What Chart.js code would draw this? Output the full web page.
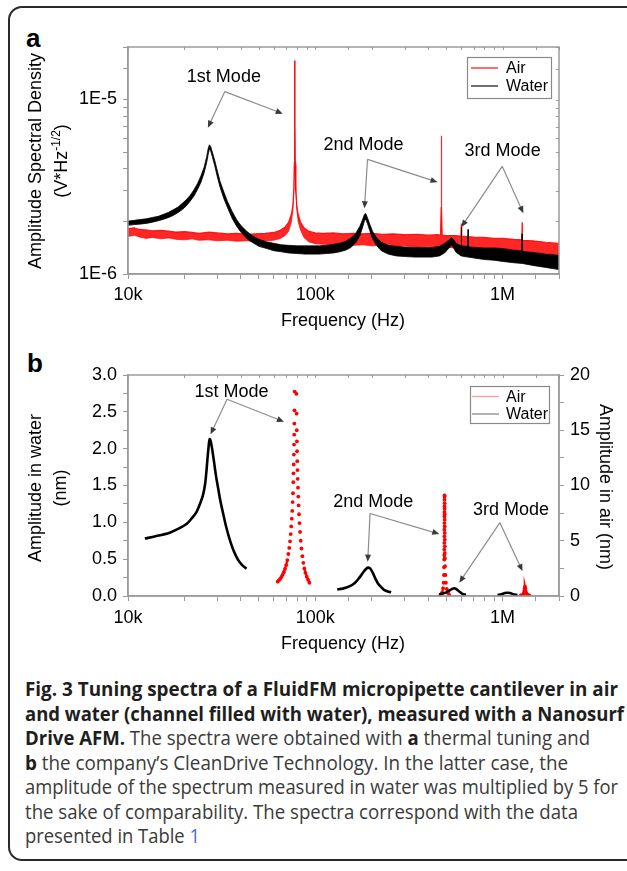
<!DOCTYPE html>
<html><head><meta charset="utf-8">
<script src="https://cdn.jsdelivr.net/npm/chart.js@4.4.1/dist/chart.umd.min.js"></script>
<style>
html,body{margin:0;padding:0;background:#fff;width:627px;height:871px;overflow:hidden;position:relative;font-family:"Liberation Sans",Arial,sans-serif;}
#frame{position:absolute;left:8px;top:6px;width:660px;height:855px;border:2.5px solid #2a2a2a;border-radius:14px;box-sizing:border-box;}
canvas{position:absolute;left:0;}
#ca{top:0}
#cb{top:340px}
.lbl{position:absolute;font-weight:bold;font-size:26px;color:#000;line-height:1}
.t{position:absolute;font-size:18px;color:#000;white-space:nowrap;line-height:1;transform:translate(-50%,-50%)}
.rl{transform:translate(-50%,-50%) rotate(-90deg)}
.rr{transform:translate(-50%,-50%) rotate(90deg)}
.t sup{font-size:12px;vertical-align:7px}
.cap{position:absolute;left:25px;white-space:nowrap;font-family:"Open Sans",sans-serif;font-size:20px;color:#3a3a3a;transform-origin:0 50%;line-height:24px}
.cap b{color:#1e1e1e;font-weight:700}
.cap .lk{color:#3f6fd8}
</style></head>
<body>
<div id="frame"></div>
<div class="lbl" style="left:26px;top:25px">a</div>
<div class="lbl" style="left:27px;top:350px">b</div>
<canvas id="ca" width="627" height="340"></canvas>
<canvas id="cb" width="627" height="330"></canvas>

<div class="t rl" style="left:35px;top:161px">Amplitude Spectral Density</div>
<div class="t rl" style="left:60px;top:161px">(V*Hz<sup>-1/2</sup>)</div>
<div class="t" style="left:343px;top:320px">Frequency (Hz)</div>
<div class="t rl" style="left:35px;top:488px">Amplitude in water</div>
<div class="t rl" style="left:60px;top:488px">(nm)</div>
<div class="t rr" style="left:606px;top:487px">Amplitude in air (nm)</div>
<div class="t" style="left:343px;top:643px">Frequency (Hz)</div>

<div class="cap" data-w="593" style="top:689px"><b>Fig. 3 Tuning spectra of a FluidFM micropipette cantilever in air</b></div>
<div class="cap" data-w="599" style="top:713.5px"><b>and water (channel filled with water), measured with a Nanosurf</b></div>
<div class="cap" data-w="565" style="top:738px"><b>Drive AFM.</b> The spectra were obtained with <b>a</b> thermal tuning and</div>
<div class="cap" data-w="543" style="top:762.5px"><b>b</b> the company’s CleanDrive Technology. In the latter case, the</div>
<div class="cap" data-w="593" style="top:787px">amplitude of the spectrum measured in water was multiplied by 5 for</div>
<div class="cap" data-w="553" style="top:811.5px">the sake of comparability. The spectra correspond with the data</div>
<div class="cap" data-w="175" style="top:836px">presented in Table <span class="lk">1</span></div>

<script>
// ---------------- DATA ----------------
const seriesNames = ['Air', 'Water'];
const modeLabels = ['1st Mode', '2nd Mode', '3rd Mode'];
const xTickVals = [1e4, 1e5, 1e6];
const xTickText = ['10k', '100k', '1M'];
const yTickValsA = [1e-6, 1e-5];
const yTickTextA = ['1E-6', '1E-5'];

// Panel a: thermal noise spectra (V/sqrt(Hz)), lower / upper edge of the noisy trace
const airF_a = [10000,10800,11500,12500,13500,15000,16500,18000,20000,22000,24000,27000,30000,34000,38000,43000,48000,54000,60000,65000,69000,72000,74500,76000,76900,77300,77550,77700,77850,78100,78600,79600,81000,83500,87000,92000,100000,110000,125000,140000,160000,180000,200000,230000,260000,300000,350000,400000,450000,466000,469500,471000,472500,476000,500000,560000,599000,602000,605000,700000,800000,900000,1000000,1150000,1266000,1271000,1276000,1450000,1700000,2000000];
const airLo_a = [1.64e-6,1.67e-6,1.63e-6,1.60e-6,1.62e-6,1.59e-6,1.61e-6,1.58e-6,1.57e-6,1.59e-6,1.56e-6,1.57e-6,1.55e-6,1.56e-6,1.54e-6,1.55e-6,1.53e-6,1.55e-6,1.56e-6,1.60e-6,1.66e-6,1.76e-6,1.98e-6,2.35e-6,3.00e-6,4.20e-6,7.00e-6,1.67e-5,7.00e-6,4.20e-6,3.00e-6,2.35e-6,2.00e-6,1.78e-6,1.62e-6,1.53e-6,1.49e-6,1.48e-6,1.47e-6,1.48e-6,1.46e-6,1.47e-6,1.45e-6,1.46e-6,1.44e-6,1.45e-6,1.43e-6,1.44e-6,1.43e-6,1.43e-6,1.43e-6,1.43e-6,1.43e-6,1.43e-6,1.42e-6,1.41e-6,1.41e-6,1.41e-6,1.41e-6,1.40e-6,1.38e-6,1.37e-6,1.36e-6,1.35e-6,1.34e-6,1.34e-6,1.34e-6,1.32e-6,1.31e-6,1.28e-6];
const airHi_a = [1.82e-6,1.84e-6,1.80e-6,1.79e-6,1.77e-6,1.78e-6,1.76e-6,1.74e-6,1.75e-6,1.73e-6,1.71e-6,1.74e-6,1.72e-6,1.70e-6,1.71e-6,1.69e-6,1.70e-6,1.71e-6,1.73e-6,1.78e-6,1.86e-6,1.98e-6,2.20e-6,2.50e-6,3.15e-6,4.35e-6,7.30e-6,1.67e-5,7.30e-6,4.35e-6,3.15e-6,2.50e-6,2.20e-6,1.98e-6,1.84e-6,1.76e-6,1.72e-6,1.71e-6,1.72e-6,1.70e-6,1.71e-6,1.70e-6,1.71e-6,1.69e-6,1.70e-6,1.68e-6,1.69e-6,1.67e-6,1.68e-6,1.67e-6,2.40e-6,6.20e-6,2.40e-6,1.67e-6,1.66e-6,1.66e-6,1.65e-6,1.95e-6,1.65e-6,1.63e-6,1.62e-6,1.60e-6,1.60e-6,1.58e-6,1.57e-6,1.98e-6,1.56e-6,1.55e-6,1.52e-6,1.50e-6];

const waterF_a = [10000,10800,11500,12500,13500,14500,15500,16500,17500,18500,19500,20500,21500,22500,23500,24500,25500,26300,26800,27200,27600,28200,29000,30000,31000,32500,34000,36000,38000,40000,43000,46000,50000,55000,60000,66000,72000,80000,88000,96000,105000,115000,125000,135000,145000,155000,165000,173000,179000,183000,186000,190000,195000,202000,212000,225000,245000,270000,300000,340000,380000,420000,460000,490000,515000,532000,545000,565000,600000,602000,604000,652000,654000,656000,720000,800000,900000,1000000,1150000,1268000,1271000,1274000,1450000,1700000,2000000];
const waterLo_a = [1.90e-6,1.92e-6,1.93e-6,1.95e-6,1.98e-6,2.02e-6,2.06e-6,2.11e-6,2.17e-6,2.25e-6,2.34e-6,2.46e-6,2.62e-6,2.80e-6,3.05e-6,3.35e-6,3.80e-6,4.35e-6,4.85e-6,5.20e-6,5.10e-6,4.70e-6,4.20e-6,3.60e-6,3.15e-6,2.70e-6,2.40e-6,2.08e-6,1.88e-6,1.74e-6,1.60e-6,1.52e-6,1.44e-6,1.40e-6,1.36e-6,1.34e-6,1.32e-6,1.31e-6,1.30e-6,1.30e-6,1.30e-6,1.31e-6,1.32e-6,1.34e-6,1.37e-6,1.42e-6,1.52e-6,1.66e-6,1.86e-6,2.02e-6,2.06e-6,1.94e-6,1.78e-6,1.60e-6,1.46e-6,1.36e-6,1.30e-6,1.27e-6,1.26e-6,1.25e-6,1.25e-6,1.25e-6,1.27e-6,1.32e-6,1.40e-6,1.46e-6,1.42e-6,1.33e-6,1.27e-6,1.27e-6,1.27e-6,1.25e-6,1.25e-6,1.25e-6,1.23e-6,1.21e-6,1.20e-6,1.18e-6,1.16e-6,1.15e-6,1.15e-6,1.15e-6,1.12e-6,1.09e-6,1.06e-6];
const waterHi_a = [2.01e-6,2.03e-6,2.05e-6,2.07e-6,2.11e-6,2.14e-6,2.20e-6,2.26e-6,2.34e-6,2.42e-6,2.54e-6,2.67e-6,2.83e-6,3.04e-6,3.30e-6,3.65e-6,4.10e-6,4.70e-6,5.25e-6,5.50e-6,5.40e-6,5.00e-6,4.50e-6,3.90e-6,3.40e-6,2.95e-6,2.60e-6,2.28e-6,2.05e-6,1.90e-6,1.76e-6,1.66e-6,1.58e-6,1.53e-6,1.50e-6,1.47e-6,1.46e-6,1.45e-6,1.45e-6,1.45e-6,1.45e-6,1.46e-6,1.48e-6,1.50e-6,1.54e-6,1.61e-6,1.72e-6,1.88e-6,2.06e-6,2.20e-6,2.22e-6,2.10e-6,1.94e-6,1.76e-6,1.62e-6,1.52e-6,1.46e-6,1.44e-6,1.43e-6,1.42e-6,1.42e-6,1.42e-6,1.44e-6,1.50e-6,1.56e-6,1.62e-6,1.58e-6,1.50e-6,1.45e-6,1.85e-6,1.45e-6,1.44e-6,1.80e-6,1.43e-6,1.42e-6,1.41e-6,1.41e-6,1.40e-6,1.37e-6,1.36e-6,1.70e-6,1.35e-6,1.33e-6,1.30e-6,1.28e-6];

// Panel b: CleanDrive spectra (null = gap between sweeps)
const waterF_b = [12300,14000,16700,18500,20600,22000,23200,24300,25200,25800,26200,26600,26900,27100,27300,27500,27800,28200,28800,29500,30300,31200,32200,33500,34900,36700,38700,40700,42900,null,
  131000,140000,152000,163000,172000,180000,187000,192000,197000,203000,209000,216000,225000,234000,244000,254000,null,
  459000,480000,500000,520000,537000,552000,568000,587000,610000,637000,null,
  940000,985000,1030000,1060000,1095000,1140000,1200000];
const waterAmp_b = [0.78,0.81,0.86,0.91,0.98,1.06,1.14,1.26,1.38,1.52,1.68,1.88,2.01,2.09,2.13,2.12,2.07,1.98,1.82,1.63,1.46,1.28,1.12,0.93,0.77,0.61,0.49,0.42,0.37,null,
  0.09,0.10,0.13,0.18,0.25,0.32,0.37,0.385,0.37,0.31,0.24,0.17,0.12,0.08,0.06,0.05,null,
  0.025,0.035,0.05,0.075,0.095,0.105,0.09,0.06,0.03,0.015,null,
  0.012,0.025,0.04,0.045,0.04,0.025,0.012];
const airF_b = [63000,63900,64900,65900,66900,67900,68900,69900,70900,71800,72600,73300,73900,74400,74900,75300,75700,76000,76300,76500,76700,76850,77000,77150,77300,77450,77600,
  79300,79450,79600,79750,79900,80100,80300,80550,80800,81100,81450,81850,82300,82900,83600,84400,85300,86300,87400,88600,90000,91500,93000,null,
  465000,475000,481000,484000,486000,487000,487600,488000,488300,488500,488700,488850,489000,489100,489200,489300,489400,489500,
  490000,490100,490200,490300,490450,490600,490800,491000,491300,491600,492000,493000,495000,498000,503000,510000,519000,null,
  1250000,1285000,1300000,1308000,1313000,1316000,1320000,1327000,1340000,1360000,1390000];
const airAmp_b = [1.3,1.42,1.55,1.72,1.92,2.15,2.45,2.8,3.25,3.8,4.35,4.95,5.6,6.3,7.0,7.7,8.5,9.3,10.3,11.1,11.9,12.8,13.7,14.6,15.6,16.8,18.5,
  18.3,16.5,15.0,14.0,13.1,12.2,11.4,10.6,9.8,9.0,8.2,7.4,6.6,5.8,5.0,4.3,3.6,3.0,2.5,2.1,1.75,1.48,1.2,null,
  0.09,0.3,0.7,1.2,1.9,2.6,3.3,3.7,4.2,4.8,5.4,6.0,6.6,7.2,7.6,8.1,8.7,9.1,
  9.0,8.4,7.9,7.4,6.9,6.3,5.7,5.1,4.5,3.9,3.4,2.7,1.9,1.2,0.65,0.3,0.09,null,
  0.05,0.15,0.3,0.5,0.7,0.85,0.7,0.45,0.25,0.12,0.05];

// Mode annotations (data coordinates): label position, arrow origin, two arrow tips
const annotA = [
  {text: modeLabels[0], at: [32500, 1.35e-5], from: [32900, 1.11e-5], to: [[26700, 6.9e-6], [67000, 8.3e-6]]},
  {text: modeLabels[1], at: [181000, 5.46e-6], from: [190000, 4.54e-6], to: [[183000, 2.38e-6], [449000, 3.36e-6]]},
  {text: modeLabels[2], at: [1000000, 5.1e-6], from: [995000, 4.14e-6], to: [[603000, 1.86e-6], [1290000, 2.23e-6]]}
];
const annotB = [
  {text: modeLabels[0], at: [35700, 2.77], from: [33800, 2.67], to: [[27600, 2.195], [68000, 2.366]]},
  {text: modeLabels[1], at: [204000, 1.27], from: [196000, 1.12], to: [[190500, 0.466], [459000, 0.842]]},
  {text: modeLabels[2], at: [1109000, 1.167], from: [967000, 0.995], to: [[587000, 0.181], [1277000, 0.339]]}
];

// ---------------- HELPERS ----------------
const FONT = '"Liberation Sans", Arial, sans-serif';
Chart.defaults.font.family = FONT;
const AX = '#9b9b9b';
const pts = (F, Y) => F.map((f, i) => ({x: f === null ? F[i - 1] : f, y: Y[i]}));
const lookup = (vals, texts) => v => { for (let i = 0; i < vals.length; i++) if (Math.abs(v / vals[i] - 1) < 1e-6) return texts[i]; return ''; };

const boxPlugin = {
  id: 'box',
  afterDraw(chart, args, o) {
    const {ctx, chartArea: a} = chart;
    ctx.save();
    ctx.strokeStyle = AX; ctx.lineWidth = 1.5;
    ctx.strokeRect(a.left, a.top, a.right - a.left, a.bottom - a.top);
    ctx.lineWidth = 1;
    const xs = chart.scales.x;
    xs.ticks.forEach(t => { const px = Math.round(xs.getPixelForValue(t.value)) + 0.5;
      ctx.beginPath(); ctx.moveTo(px, a.top); ctx.lineTo(px, a.top + 3); ctx.stroke(); });
    if (o.right) {
      const ys = chart.scales.y;
      ys.ticks.forEach(t => { const py = Math.round(ys.getPixelForValue(t.value)) + 0.5;
        ctx.beginPath(); ctx.moveTo(a.right, py); ctx.lineTo(a.right - 3, py); ctx.stroke(); });
    }
    ctx.restore();
  }
};

const annotPlugin = {
  id: 'annot',
  afterDatasetsDraw(chart, args, o) {
    const {ctx} = chart; const xs = chart.scales.x, ys = chart.scales[o.axis];
    const P = p => [xs.getPixelForValue(p[0]), ys.getPixelForValue(p[1])];
    ctx.save();
    o.items.forEach(it => {
      const [tx, ty] = P(it.at);
      ctx.font = '18px ' + FONT; ctx.fillStyle = '#000'; ctx.textAlign = 'center'; ctx.textBaseline = 'middle';
      ctx.fillText(it.text, tx, ty);
      const [ox, oy] = P(it.from);
      it.to.forEach(tp => {
        const [hx, hy] = P(tp);
        const ang = Math.atan2(hy - oy, hx - ox);
        ctx.strokeStyle = '#8c8c8c'; ctx.lineWidth = 1.2;
        ctx.beginPath(); ctx.moveTo(ox, oy); ctx.lineTo(hx - 4 * Math.cos(ang), hy - 4 * Math.sin(ang)); ctx.stroke();
        ctx.fillStyle = '#3a3a3a';
        ctx.beginPath();
        ctx.moveTo(hx, hy);
        ctx.lineTo(hx - 7 * Math.cos(ang) + 3 * Math.sin(ang), hy - 7 * Math.sin(ang) - 3 * Math.cos(ang));
        ctx.lineTo(hx - 7 * Math.cos(ang) - 3 * Math.sin(ang), hy - 7 * Math.sin(ang) + 3 * Math.cos(ang));
        ctx.closePath(); ctx.fill();
      });
    });
    ctx.restore();
  }
};

const legendPlugin = {
  id: 'boxLegend',
  afterDraw(chart, args, o) {
    const {ctx, chartArea: a} = chart;
    const L = a.right - o.dx, T = a.top + o.dy;
    ctx.save();
    ctx.fillStyle = '#fff'; ctx.fillRect(L, T, o.w, o.h);
    ctx.strokeStyle = '#8a8a8a'; ctx.lineWidth = 1.2; ctx.strokeRect(L + 0.5, T + 0.5, o.w, o.h);
    o.items.forEach((it, i) => {
      const y = T + o.rows[i];
      ctx.strokeStyle = it.color; ctx.lineWidth = 1.3;
      ctx.beginPath(); ctx.moveTo(L + o.l0, y); ctx.lineTo(L + o.l1, y); ctx.stroke();
      ctx.font = '16px ' + FONT; ctx.fillStyle = '#000'; ctx.textAlign = 'left'; ctx.textBaseline = 'middle';
      ctx.fillText(it.label, L + o.tx, y + 1);
    });
    ctx.restore();
  }
};

const tickFont = {family: FONT, size: 18};
const logX = (h, pad) => ({
  type: 'logarithmic', min: 1e4, max: 2e6, position: 'bottom',
  afterFit(s) { s.height = h; },
  grid: {drawOnChartArea: false, drawTicks: true, tickLength: 5, color: AX, tickColor: AX, tickWidth: 1},
  border: {color: AX, width: 1.5},
  ticks: {autoSkip: false, maxRotation: 0, minRotation: 0, padding: pad, color: '#000', font: tickFont, callback: lookup(xTickVals, xTickText)}
});

// ---------------- CHART a ----------------
new Chart(document.getElementById('ca'), {
  type: 'line',
  data: {datasets: [
    {label: seriesNames[1], data: pts(waterF_a, waterLo_a), borderColor: 'rgba(0,0,0,0.8)', borderWidth: 1, pointRadius: 0, fill: false},
    {label: seriesNames[1], data: pts(waterF_a, waterHi_a), borderColor: 'rgba(0,0,0,0.75)', borderWidth: 1, pointRadius: 0, fill: '-1', backgroundColor: '#000'},
    {label: seriesNames[0], data: pts(airF_a, airLo_a), borderColor: 'rgba(255,0,0,0.7)', borderWidth: 1, pointRadius: 0, fill: false},
    {label: seriesNames[0], data: pts(airF_a, airHi_a), borderColor: 'rgba(255,0,0,0.85)', borderWidth: 1.2, pointRadius: 0, fill: '-1', backgroundColor: 'rgba(255,0,0,0.85)'}
  ]},
  options: {
    responsive: false, animation: false, devicePixelRatio: 1,
    layout: {padding: {left: 0, top: 47, right: 68, bottom: 0}},
    plugins: {
      legend: {display: false}, tooltip: {enabled: false},
      box: {right: true},
      annot: {items: annotA, axis: 'y'},
      boxLegend: {dx: 92, dy: 10, w: 84, h: 41, rows: [11, 29], l0: 4, l1: 31, tx: 39,
        items: [{label: seriesNames[0], color: '#ff2020'}, {label: seriesNames[1], color: '#222'}]}
    },
    scales: {
      x: logX(66, 5),
      y: {
        type: 'logarithmic', min: 1e-6, max: 2e-5, position: 'left',
        afterFit(s) { s.width = 128; },
        grid: {drawOnChartArea: false, drawTicks: true, tickLength: 5, color: AX, tickColor: AX},
        border: {color: AX, width: 1.5},
        ticks: {autoSkip: false, padding: 6, color: '#000', font: tickFont, callback: lookup(yTickValsA, yTickTextA)}
      }
    }
  },
  plugins: [boxPlugin, annotPlugin, legendPlugin]
});

// ---------------- CHART b ----------------
const halfLabel = step => v => (Math.abs(v / step - Math.round(v / step)) < 1e-6 ? v : '');
new Chart(document.getElementById('cb'), {
  type: 'line',
  data: {datasets: [
    {label: seriesNames[1], yAxisID: 'y', data: pts(waterF_b, waterAmp_b), borderColor: '#000', borderWidth: 2.6,
     pointRadius: 0, tension: 0.3, spanGaps: false, fill: false},
    {label: seriesNames[0], yAxisID: 'y2', data: pts(airF_b, airAmp_b), borderWidth: 2.3, spanGaps: false, fill: false,
     pointRadius: 1.9, pointBackgroundColor: '#ff0000', pointBorderWidth: 0, borderColor: '#ff0000',
     segment: {borderColor: c => (Math.hypot(c.p1.x - c.p0.x, c.p1.y - c.p0.y) < 5.5 ? '#ff0000' : 'rgba(0,0,0,0)')}}
  ]},
  options: {
    responsive: false, animation: false, devicePixelRatio: 1,
    layout: {padding: {left: 0, top: 35, right: 0, bottom: 0}},
    plugins: {
      legend: {display: false}, tooltip: {enabled: false},
      box: {right: false},
      annot: {items: annotB, axis: 'y'},
      boxLegend: {dx: 89, dy: 11, w: 79, h: 37, rows: [10.5, 28], l0: 2, l1: 29, tx: 36,
        items: [{label: seriesNames[0], color: '#ff9a9a'}, {label: seriesNames[1], color: '#8a8a8a'}]}
    },
    scales: {
      x: logX(74, 6),
      y: {
        type: 'linear', min: 0, max: 3, position: 'left',
        afterFit(s) { s.width = 128; },
        grid: {drawOnChartArea: false, drawTicks: true, tickLength: 5, color: AX, tickColor: AX},
        border: {color: AX, width: 1.5},
        ticks: {stepSize: 0.25, autoSkip: false, padding: 6, color: '#000', font: tickFont,
          callback: v => (Math.abs(v * 2 - Math.round(v * 2)) < 1e-6 ? v.toFixed(1) : '')}
      },
      y2: {
        type: 'linear', min: 0, max: 20, position: 'right',
        afterFit(s) { s.width = 68; },
        grid: {drawOnChartArea: false, drawTicks: true, tickLength: 5, color: AX, tickColor: AX},
        border: {color: AX, width: 1.5},
        ticks: {stepSize: 2.5, autoSkip: false, padding: 6, color: '#000', font: tickFont, callback: halfLabel(5)}
      }
    }
  },
  plugins: [boxPlugin, annotPlugin, legendPlugin]
});

// ---------------- caption fit ----------------
document.querySelectorAll('.cap').forEach(el => {
  const w = el.getBoundingClientRect().width;
  el.style.transform = 'translateY(-50%) scaleX(' + (+el.dataset.w / w) + ')';
});
</script>
</body></html>
